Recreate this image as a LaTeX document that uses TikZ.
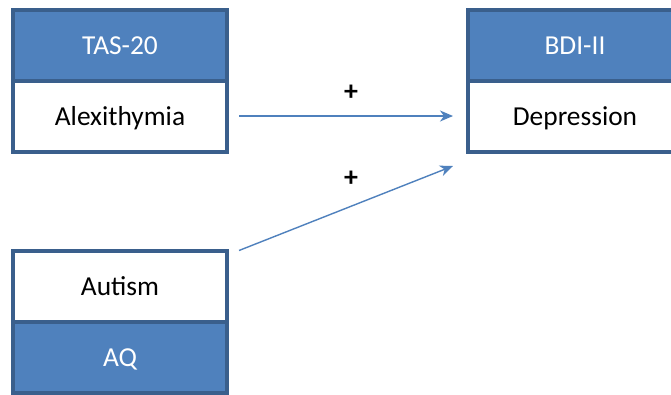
\documentclass[tikz,border=0pt]{standalone}
\usepackage{fontspec}
\setmainfont{Carlito}
\usetikzlibrary{arrows.meta,calc}
\definecolor{hdrblue}{HTML}{4F81BD}
\definecolor{edgeblue}{HTML}{3A5F8C}
\definecolor{arrowblue}{HTML}{4F81BD}
\begin{document}
\begin{tikzpicture}[x=1bp,y=-1bp,
  cell/.style={draw=edgeblue,line width=4bp,minimum width=214bp,minimum height=71bp,
    inner sep=0pt,outer sep=0pt,text height=21bp,text depth=2bp,
    font=\fontsize{27.5}{31}\selectfont},
  hdrcell/.style={cell,fill=hdrblue,text=white},
  bodycell/.style={cell,fill=white,text=black},
  link/.style={draw=arrowblue,line width=1.4bp,-{Stealth[length=13bp,width=11bp,inset=4bp]}},
  sign/.style={font=\fontsize{28}{32}\selectfont\bfseries,inner sep=0pt}]
\clip (0,0) rectangle (671,394);
\fill[white] (0,0) rectangle (671,394);

% Alexithymia block
\node[hdrcell] (tas) at (120,45) {TAS-20};
\node[bodycell] (alex) at (120,116) {Alexithymia};

% Depression block (runs past the right edge)
\node[hdrcell] (bdi) at (575,45) {BDI-II};
\node[bodycell] (dep) at (575,116) {Depression};

% Autism block
\node[bodycell] (aut) at (120,286) {Autism};
\node[hdrcell] (aq) at (120,357) {AQ};

% paths
\coordinate (a1s) at ($(alex.east)+(12,0)$);
\coordinate (a1e) at ($(dep.west)+(-15,0)$);
\coordinate (a2s) at ($(aut.north east)+(12,0)$);
\coordinate (a2e) at ($(dep.south west)+(-15,14.5)$);
\draw[link] (a1s) -- (a1e);
\draw[link] (a2s) -- (a2e);

\node[sign] (p1) at (351,93) {+};
\node[sign] (p2) at (351,179) {+};
\end{tikzpicture}
\end{document}
